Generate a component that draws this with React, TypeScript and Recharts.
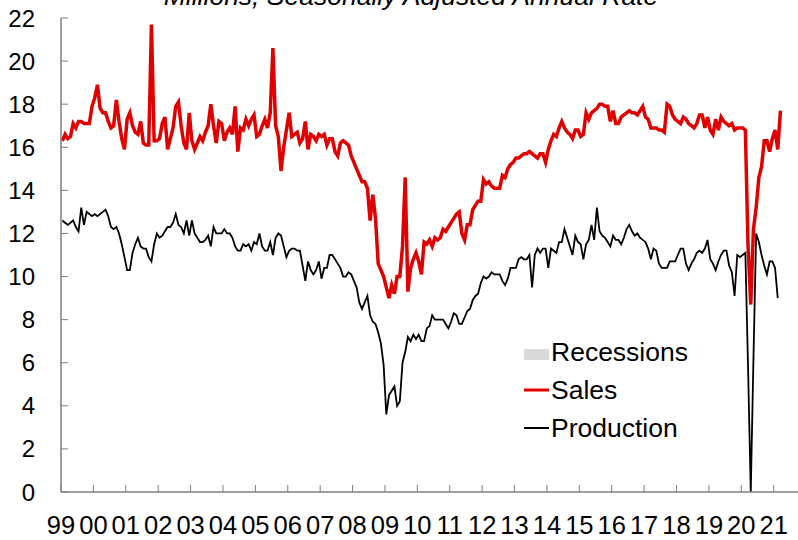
import { LineChart, Line, XAxis, YAxis, Legend } from 'recharts'

const FONT = '"Liberation Sans", Arial, sans-serif'

const startYear = 1999
const yearTicks = [1999, 2000, 2001, 2002, 2003, 2004, 2005, 2006, 2007, 2008, 2009, 2010, 2011, 2012, 2013, 2014, 2015, 2016, 2017, 2018, 2019, 2020, 2021]
const valueTicks = [0, 2, 4, 6, 8, 10, 12, 14, 16, 18, 20, 22]

// monthly, Jan 1999 .. Mar 2021
const sales = [
  16.3, 16.6, 16.4, 16.5, 17.1, 16.9, 17.2, 17.2, 17.1, 17.1, 17.1, 17.9,
  18.3, 18.9, 17.8, 17.6, 17.6, 17.2, 16.9, 17.0, 18.2, 17.2, 16.4, 15.9,
  17.3, 17.6, 17.0, 16.7, 16.6, 17.2, 16.2, 16.1, 16.1, 21.7, 16.3, 16.3,
  16.4, 17.1, 17.4, 15.9, 16.4, 16.9, 17.9, 18.1, 17.0, 16.2, 15.9, 17.6,
  16.3, 15.9, 16.2, 16.5, 16.3, 16.7, 17.0, 18.0, 17.0, 16.2, 17.2, 17.1,
  16.3, 16.7, 16.9, 16.6, 17.9, 15.8, 16.9, 16.8, 17.3, 17.0, 17.3, 17.5,
  16.5, 16.6, 17.0, 17.3, 16.9, 17.6, 20.6, 17.0, 16.5, 14.9, 16.0, 16.8,
  17.6, 16.5, 16.6, 16.7, 16.2, 16.4, 17.2, 15.9, 16.6, 16.5, 16.3, 16.6,
  16.5, 16.6, 16.1, 16.4, 16.4, 15.8, 15.6, 16.2, 16.3, 16.2, 16.1, 15.6,
  15.3, 15.0, 14.7, 14.4, 14.4, 14.1, 12.6, 13.8, 12.7, 10.6, 10.3, 10.0,
  9.5, 9.0, 9.6, 9.2, 10.0, 10.0, 11.4, 14.6, 9.3, 10.4, 10.8, 11.1,
  10.7, 10.1, 11.6, 11.5, 11.7, 11.4, 11.8, 11.7, 11.8, 12.2, 12.1, 12.3,
  12.5, 12.7, 12.9, 13.0, 12.0, 11.7, 12.4, 12.4, 13.1, 13.3, 13.5, 13.5,
  14.5, 14.3, 14.4, 14.2, 14.1, 14.1, 14.1, 14.7, 14.6, 15.0, 15.2, 15.3,
  15.5, 15.5, 15.6, 15.7, 15.7, 15.8, 15.7, 15.6, 15.5, 15.7, 15.7, 15.3,
  15.9, 16.3, 16.6, 16.5, 16.9, 17.2, 16.9, 16.7, 16.6, 16.4, 16.8, 16.8,
  16.5, 16.6, 17.6, 17.3, 17.6, 17.7, 17.8, 18.0, 18.0, 17.9, 17.9, 17.2,
  17.7, 17.1, 17.1, 17.4, 17.5, 17.6, 17.7, 17.6, 17.6, 17.5, 17.7, 17.9,
  17.4, 17.3, 16.9, 16.9, 16.9, 16.8, 16.8, 16.7, 18.0, 17.9, 17.5, 17.3,
  17.2, 17.1, 17.4, 17.3, 17.1, 17.0, 16.9, 17.1, 17.5, 17.5, 16.9, 17.4,
  16.8, 16.6, 17.3, 16.8, 17.4, 17.2, 17.1, 17.0, 17.1, 16.8, 16.9, 16.9,
  16.9, 16.8, 11.4, 8.7, 12.2, 13.2, 14.6, 15.1, 16.3, 16.3, 15.8, 16.4,
  16.8, 15.9, 17.7,
]

// monthly, Jan 1999 .. Feb 2021
const production = [
  12.6, 12.5, 12.4, 12.5, 12.6, 12.3, 12.1, 13.2, 12.4, 13.0, 12.9, 12.8,
  12.9, 12.8, 12.9, 13.0, 13.1, 12.8, 12.3, 12.2, 12.3, 12.0, 11.5, 10.9,
  10.3, 10.3, 11.1, 11.5, 11.8, 11.4, 11.3, 11.3, 10.9, 10.7, 11.5, 12.0,
  11.8, 11.9, 12.1, 12.3, 12.3, 12.5, 12.9, 12.4, 12.3, 12.0, 12.6, 11.9,
  12.6, 12.0, 11.8, 11.6, 11.6, 11.7, 11.9, 11.4, 12.3, 12.0, 12.0, 12.0,
  12.2, 12.0, 12.0, 11.8, 11.4, 11.2, 11.2, 11.5, 11.4, 11.5, 11.2, 11.6,
  11.5, 12.0, 11.4, 11.2, 11.2, 11.6, 11.0, 11.8, 12.0, 11.9, 11.4, 10.9,
  11.2, 11.3, 11.3, 11.2, 11.2, 10.5, 9.8, 10.7, 10.3, 10.1, 10.3, 10.7,
  9.9, 10.4, 10.4, 11.0, 11.0, 10.8, 10.6, 10.4, 10.0, 10.0, 10.2, 10.1,
  9.8, 9.5, 8.8, 8.5, 8.8, 9.1, 8.2, 7.9, 7.8, 7.4, 6.9, 5.9,
  3.6, 4.5, 4.7, 4.9, 4.0, 4.2, 6.0, 6.5, 7.2, 7.0, 7.3, 7.1,
  7.3, 7.0, 7.0, 7.6, 7.7, 8.2, 8.0, 8.0, 8.0, 8.0, 7.8, 7.6,
  7.9, 8.3, 8.2, 7.8, 7.8, 8.1, 8.4, 8.5, 8.9, 9.1, 9.2, 9.7,
  10.0, 9.9, 10.0, 10.2, 10.1, 10.1, 10.1, 9.8, 9.6, 9.9, 10.4, 10.4,
  10.4, 10.8, 10.9, 10.8, 10.8, 11.0, 9.5, 11.0, 11.3, 11.1, 11.3, 11.3,
  10.4, 11.3, 11.2, 11.1, 11.6, 11.6, 12.2, 11.8, 11.4, 11.0, 11.9, 11.6,
  11.5, 10.8, 11.5, 11.7, 12.4, 11.7, 13.2, 12.1, 11.9, 11.8, 11.6, 11.4,
  11.9, 11.7, 11.7, 11.5, 11.8, 12.2, 12.4, 12.1, 11.9, 12.0, 11.8, 11.7,
  11.6, 11.3, 10.8, 11.3, 11.2, 10.6, 10.4, 10.4, 10.4, 10.7, 10.7, 10.7,
  11.0, 11.3, 11.3, 10.6, 10.3, 10.6, 10.8, 11.1, 11.2, 11.1, 11.3, 11.7,
  10.8, 10.6, 10.3, 10.7, 11.0, 11.2, 11.2, 10.5, 10.2, 9.1, 11.0, 10.9,
  11.0, 11.1, 5.8, 0.0, 6.2, 12.0, 11.6, 11.0, 10.5, 10.1, 10.7, 10.7,
  10.4, 9.0,
]

const legendItems = [
  { name: 'Recessions', kind: 'box', color: '#d9d9d9' },
  { name: 'Sales', kind: 'line', color: '#e10000' },
  { name: 'Production', kind: 'line', color: '#000000' },
]

const data = sales.map((v, i) => ({
  t: startYear + (i + 0.5) / 12,
  sales: v,
  production: i < production.length ? production[i] : null,
}))

const AXIS = '#7f7f7f'

function renderLegend() {
  return (
    <div style={{ fontFamily: FONT, fontSize: 26.5, color: '#000', lineHeight: '26px' }}>
      {legendItems.map(item => (
        <div key={item.name} style={{ display: 'flex', alignItems: 'center', height: 38 }}>
          <svg width={27} height={24} style={{ display: 'block' }}>
            {item.kind === 'box'
              ? <rect x={0} y={9} width={25} height={11} fill={item.color} />
              : <line x1={0} y1={12} x2={25} y2={12} stroke={item.color} strokeWidth={item.name === 'Sales' ? 3 : 2} />}
          </svg>
          <span>{item.name}</span>
        </div>
      ))}
    </div>
  )
}

export default function App() {
  return (
    <div style={{ position: 'absolute', left: 0, top: 0, width: 798, height: 540, overflow: 'hidden', background: '#fff' }}>
      <div
        style={{
          position: 'absolute', top: -17, left: 0, width: 822, textAlign: 'center',
          fontFamily: FONT, fontSize: 26.5, fontStyle: 'italic', lineHeight: '26px', color: '#000',
        }}
      >
        Millions, Seasonally Adjusted Annual Rate
      </div>
      <LineChart width={798} height={540} data={data} margin={{ top: 18, right: 0, bottom: 0, left: 0 }}>
        <XAxis
          dataKey="t"
          type="number"
          domain={[1999, 2021.75]}
          ticks={yearTicks}
          interval={0}
          tickFormatter={v => String(v % 100).padStart(2, '0')}
          height={48}
          tickSize={-7}
          tickMargin={31}
          axisLine={{ stroke: AXIS, strokeWidth: 1.5 }}
          tickLine={{ stroke: AXIS }}
          tick={{ fill: '#000', fontSize: 25.5, fontFamily: FONT }}
        />
        <XAxis
          xAxisId="top"
          orientation="top"
          dataKey="t"
          type="number"
          domain={[1999, 2021.75]}
          height={0}
          tick={false}
          tickLine={false}
          axisLine={{ stroke: '#555', strokeWidth: 1.5 }}
        />
        <YAxis
          type="number"
          domain={[0, 22]}
          ticks={valueTicks}
          interval={0}
          width={61}
          tickSize={-7}
          tickMargin={33}
          axisLine={{ stroke: AXIS, strokeWidth: 1.5 }}
          tickLine={{ stroke: AXIS }}
          tick={{ fill: '#000', fontSize: 24, fontFamily: FONT }}
        />
        <Legend
          layout="vertical"
          align="center"
          verticalAlign="middle"
          content={renderLegend}
          wrapperStyle={{ left: 524, top: 333, width: 220, height: 114 }}
        />
        <Line
          dataKey="sales"
          name="Sales"
          stroke="#e10000"
          strokeWidth={3.5}
          dot={false}
          isAnimationActive={false}
        />
        <Line
          dataKey="production"
          name="Production"
          stroke="#000"
          strokeWidth={1.8}
          dot={false}
          connectNulls={false}
          isAnimationActive={false}
        />
      </LineChart>
    </div>
  )
}
